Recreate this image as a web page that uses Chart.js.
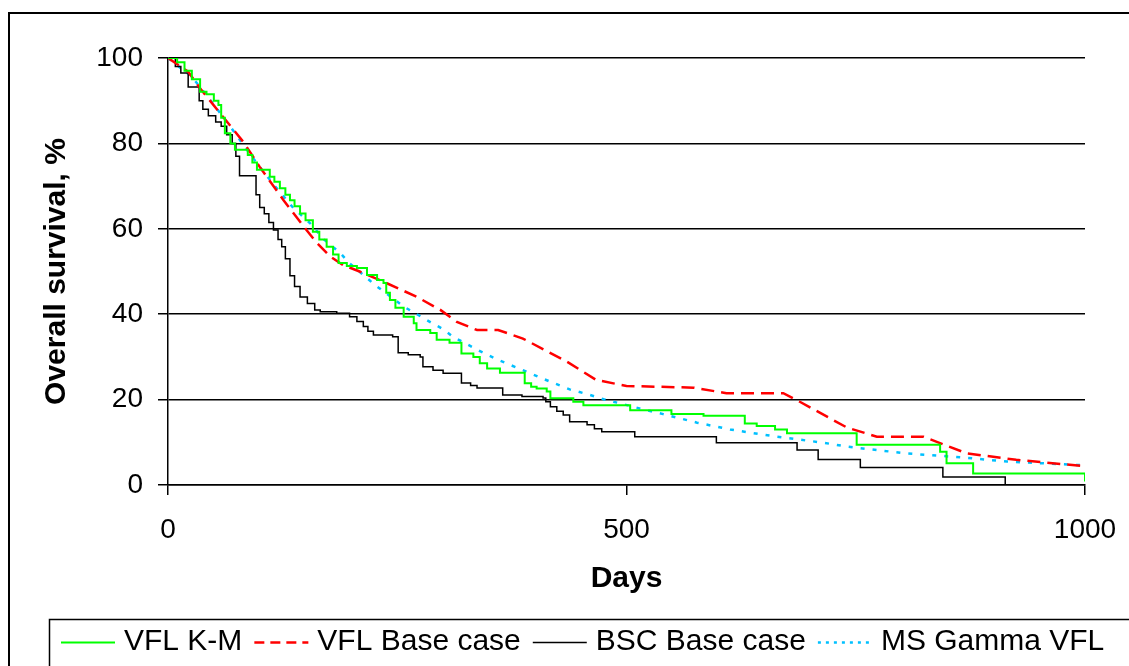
<!DOCTYPE html>
<html>
<head>
<meta charset="utf-8">
<script src="https://cdn.jsdelivr.net/npm/chart.js@4/dist/chart.umd.min.js"></script>
<style>
  html, body { margin: 0; padding: 0; background: #fff; overflow: hidden; }
</style>
</head>
<body>
<canvas id="chart" width="1250" height="700"></canvas>
<script>
// survival curves, values (days, overall survival %)
const kmDays = [0, 10, 18, 26, 35, 42, 50, 55, 58, 62, 68, 73, 87, 92, 97, 111, 116, 122, 128, 133, 138, 144, 150, 158, 165, 173, 180, 186, 195, 206, 217, 228, 235, 238, 242, 248, 257, 268, 271, 286, 293, 307, 320, 333, 340, 348, 362, 389, 396, 402, 413, 417, 442, 453, 504, 549, 584, 629, 642, 662, 675, 751, 842, 849, 878, 1000];
const kmSurv = [100, 99, 97, 95, 92.1, 91.5, 90, 89, 86, 82.4, 80, 78.5, 77.3, 75.5, 73.8, 72.2, 71, 69.5, 68, 66.7, 65.3, 63.6, 62, 59.3, 57.5, 55.8, 54, 52, 51.3, 50.8, 49.2, 48, 47.3, 45, 43.3, 41.5, 39.4, 37.9, 36.3, 35.6, 34, 33.3, 30.8, 30, 28.5, 27.3, 26.3, 23.8, 23, 22.6, 21.9, 20.3, 19.5, 18.7, 17.5, 16.6, 16.2, 14.4, 13.8, 13.0, 12.1, 9.4, 7.8, 5.1, 2.7, 0.8];

const vflDays = [0, 22, 35, 57, 82, 100, 126, 151, 162, 177, 191, 209, 235, 271, 297, 315, 337, 360, 387, 435, 467, 500, 573, 609, 671, 689, 740, 773, 824, 871, 925, 1000];
const vflSurv = [100, 96.8, 92.9, 87, 80.4, 74.5, 66.7, 59.7, 56.8, 53.5, 51.5, 50, 47.6, 44.1, 41, 38.2, 36.3, 36.3, 34.3, 28.9, 24.6, 23.2, 22.8, 21.5, 21.5, 19.5, 13.5, 11.3, 11.3, 7.4, 5.9, 4.4];

const bscDays = [0, 8, 14, 22, 34, 38, 44, 52, 58, 64, 70, 74, 78, 96, 100, 105, 110, 115, 120, 124, 128, 133, 138, 144, 152, 160, 166, 184, 198, 206, 213, 218, 224, 245, 251, 262, 275, 278, 289, 300, 320, 330, 337, 365, 386, 409, 412, 417, 424, 431, 438, 457, 465, 473, 509, 598, 686, 709, 755, 845, 913];
const bscSurv = [100, 98, 96.5, 93.2, 90, 88, 86.5, 85, 84, 82, 80, 77, 72.4, 68, 65, 63.5, 61.5, 59.7, 57.5, 55.8, 53, 49, 46.5, 44, 42.5, 41, 40.6, 40.2, 39.4, 38.3, 37.1, 36, 35.1, 34.7, 31, 30.5, 30, 27.7, 26.9, 26.2, 23.9, 23.3, 22.7, 21.1, 20.7, 20.4, 19.5, 18.3, 17.3, 16.4, 14.8, 14.1, 13.2, 12.5, 11.3, 9.9, 8.2, 6.0, 4.1, 1.9, 0];

const msDays = [0, 26, 46, 68, 86, 100, 117, 137, 155, 170, 188, 198, 213, 226, 238, 257, 288, 300, 311, 338, 360, 387, 411, 438, 460, 475, 513, 540, 577, 613, 664, 715, 740, 805, 864, 915, 1000];
const msSurv = [100, 95.6, 90.2, 83.9, 78.5, 74.5, 69.9, 64.8, 61.3, 57.5, 54.3, 51.9, 49.2, 46.8, 44.9, 41.8, 37.9, 36.5, 34.7, 31.6, 29.3, 26.9, 24.7, 22.4, 21.1, 20.1, 18, 16.6, 14.6, 13.0, 11.3, 9.9, 9.0, 7.4, 6.5, 5.5, 4.6];

const seriesNames = ['VFL K-M', 'VFL Base case', 'BSC Base case', 'MS Gamma VFL'];
const xTicks = [0, 500, 1000];
const yTicks = [0, 20, 40, 60, 80, 100];

function toPoints(days, surv) {
  return days.map((d, i) => ({ x: d, y: surv[i] }));
}

const fam = '"Liberation Sans", Arial, sans-serif';
const legendDash = [[], [10, 6], [], [3, 5]];

// outer frame, legend box and the legend line samples (drawn here so dashes show)
const frames = {
  id: 'frames',
  afterDraw(chart) {
    const ctx = chart.ctx;
    const lg = chart.legend;
    ctx.save();
    ctx.strokeStyle = '#000';
    ctx.lineWidth = 2;
    ctx.strokeRect(9, 13, 2000, 2000);
    ctx.lineWidth = 1.5;
    ctx.strokeRect(lg.left + 0.5, lg.top + 0.5, 2000, lg.height);
    lg.legendHitBoxes.forEach((hb, i) => {
      const ds = chart.data.datasets[i];
      const y = Math.round(hb.top + hb.height / 2) + 0.5;
      ctx.strokeStyle = ds.borderColor;
      ctx.lineWidth = ds.borderWidth;
      ctx.setLineDash(legendDash[i]);
      ctx.beginPath();
      ctx.moveTo(hb.left + 4, y);
      ctx.lineTo(hb.left + 58, y);
      ctx.stroke();
    });
    ctx.restore();
  }
};

new Chart(document.getElementById('chart'), {
  type: 'line',
  data: {
    datasets: [
      { label: seriesNames[0], data: toPoints(kmDays, kmSurv), borderColor: '#00ff00', borderWidth: 2, stepped: 'before' },
      { label: seriesNames[1], data: toPoints(vflDays, vflSurv), borderColor: '#ff0000', borderWidth: 2.5, borderDash: [13, 7] },
      { label: seriesNames[2], data: toPoints(bscDays, bscSurv), borderColor: '#000000', borderWidth: 1.5, stepped: 'before' },
      { label: seriesNames[3], data: toPoints(msDays, msSurv), borderColor: '#00c0ff', borderWidth: 2.5, borderDash: [4, 8] }
    ]
  },
  options: {
    responsive: false,
    animation: false,
    elements: { point: { radius: 0 }, line: { tension: 0, fill: false } },
    layout: { padding: { left: 49, right: 0, top: 58, bottom: 33 } },
    scales: {
      x: {
        type: 'linear', min: 0, max: 1000,
        afterBuildTicks: s => { s.ticks = xTicks.map(v => ({ value: v })); },
        ticks: { color: '#000', font: { family: fam, size: 28 }, padding: 18, maxRotation: 0, callback: v => String(v) },
        grid: { drawOnChartArea: false, drawTicks: true, tickLength: 10, color: '#000', lineWidth: 1.5 },
        border: { display: true, color: '#000', width: 1.5 },
        title: { display: true, text: 'Days', color: '#000', font: { family: fam, size: 30, weight: 'bold' }, padding: { top: 0, bottom: 22 } },
        afterFit: s => { s.height = 134; }
      },
      y: {
        type: 'linear', min: 0, max: 100,
        afterBuildTicks: s => { s.ticks = yTicks.map(v => ({ value: v })); },
        ticks: { color: '#000', font: { family: fam, size: 28 }, padding: 15, callback: v => String(v) },
        grid: { color: '#000', lineWidth: 1.5, tickLength: 10 },
        border: { display: true, color: '#000', width: 1.5 },
        title: { display: true, text: 'Overall survival, %', color: '#000', font: { family: fam, size: 30, weight: 'bold' }, padding: { top: -10, bottom: 0 } },
        afterFit: s => { s.width = 119; }
      },
      y2: {
        type: 'linear', position: 'right', display: true,
        grid: { display: false }, ticks: { display: false }, border: { display: false },
        afterFit: s => { s.width = 165; }
      }
    },
    plugins: {
      legend: {
        position: 'bottom',
        align: 'start',
        labels: {
          usePointStyle: true,
          pointStyle: 'line',
          pointStyleWidth: 52,
          color: '#000',
          font: { family: fam, size: 30 },
          padding: 8,
          generateLabels: chart => Chart.defaults.plugins.legend.labels.generateLabels(chart)
            .map(item => ({ ...item, strokeStyle: 'rgba(0,0,0,0)', lineWidth: 0 }))
        }
      },
      tooltip: { enabled: false }
    }
  },
  plugins: [frames]
});
</script>
</body>
</html>
